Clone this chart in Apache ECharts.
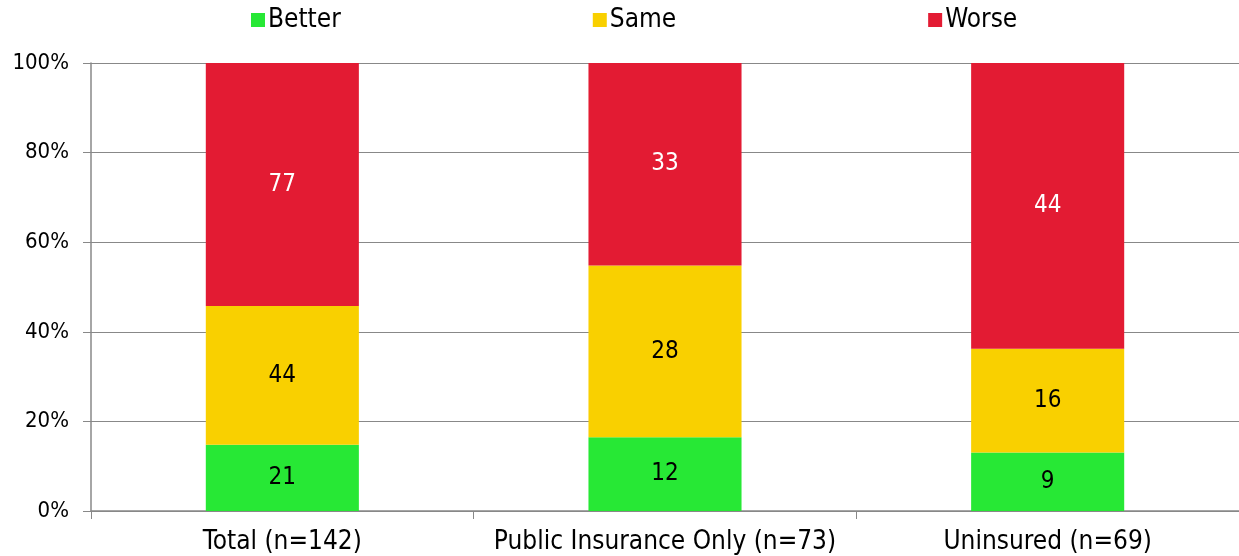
<!DOCTYPE html>
<html lang="en">
<head>
	<meta charset="UTF-8">
	<title>Better / Same / Worse</title>
	<script src="https://cdn.jsdelivr.net/npm/echarts@6/dist/echarts.min.js"></script>
	<style>
		html, body { margin: 0; padding: 0; background: #fff; }
		#chart { width: 1239px; height: 556px; }
	</style>
</head>
<body>
	<div id="chart"></div>
	<script>
		// counts per group (labels show counts, bars are share of group)
		var categories = ['Total (n=142)', 'Public Insurance Only (n=73)', 'Uninsured (n=69)'];
		var better = [21, 12, 9];
		var same = [44, 28, 16];
		var worse = [77, 33, 44];
		var yTicks = [0, 20, 40, 60, 80, 100];

		var font = '"DejaVu Sans Condensed", "Liberation Sans Narrow", "DejaVu Sans", sans-serif';

		function share(arr, i) {
			var total = better[i] + same[i] + worse[i];
			return +(arr[i] / total * 100).toFixed(2);
		}

		function makeSeries(name, arr, color, labelColor) {
			return {
				name: name,
				type: 'bar',
				stack: 'all',
				barWidth: '40%',
				data: arr.map(function (v, i) { return { value: share(arr, i), count: v }; }),
				itemStyle: { color: color },
				label: {
					show: true,
					position: 'inside',
					color: labelColor,
					fontFamily: font,
					fontSize: 24,
					formatter: function (p) { return p.data.count; }
				}
			};
		}

		var myChart = echarts.init(document.getElementById('chart'));
		myChart.setOption({
			animation: false,
			legend: {
				top: 2,
				left: 246,
				itemGap: 252,
				itemWidth: 14,
				itemHeight: 14,
				icon: 'rect',
				textStyle: { fontFamily: font, fontSize: 26, color: '#000', padding: [0, 0, 0, -2] },
				data: ['Better', 'Same', 'Worse']
			},
			grid: { left: 91, top: 63, width: 1152, height: 448, containLabel: false },
			xAxis: {
				type: 'category',
				data: categories,
				axisLine: { lineStyle: { color: '#888', width: 1.5 } },
				axisTick: { show: true, interval: 0, length: 8, lineStyle: { color: '#888' } },
				axisLabel: { interval: 0, fontFamily: font, fontSize: 26, color: '#000', margin: 18 }
			},
			yAxis: {
				type: 'value',
				min: 0,
				max: 100,
				interval: 20,
				axisLine: { show: true, lineStyle: { color: '#888', width: 1.5 } },
				axisTick: { show: true, length: 8, lineStyle: { color: '#888' } },
				splitLine: { lineStyle: { color: '#888', width: 1.2 } },
				axisLabel: {
					fontFamily: font, fontSize: 22, color: '#000', margin: 22,
					formatter: function (v) { return yTicks.indexOf(v) >= 0 ? v + '%' : ''; }
				}
			},
			series: [
				makeSeries('Better', better, '#27E835', '#000'),
				makeSeries('Same', same, '#F9D000', '#000'),
				makeSeries('Worse', worse, '#E31B33', '#fff')
			]
		});
	</script>
</body>
</html>
